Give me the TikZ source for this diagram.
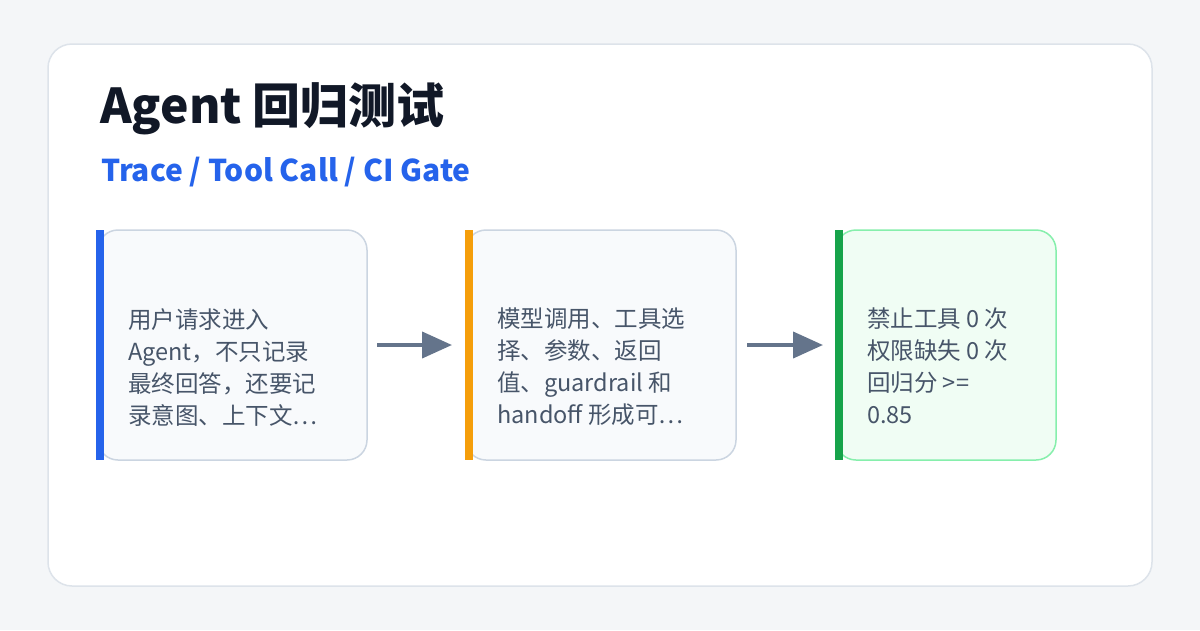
\documentclass[tikz,border=0pt]{standalone}
\usepackage{fontspec}
\setmainfont{Noto Sans CJK SC}
\usetikzlibrary{arrows.meta}
\definecolor{bg}{HTML}{F4F6F8}
\definecolor{cardb}{HTML}{DDE3EA}
\definecolor{ttl}{HTML}{111827}
\definecolor{sub}{HTML}{2563EB}
\definecolor{boxf}{HTML}{F8FAFC}
\definecolor{boxb}{HTML}{CBD5E1}
\definecolor{okf}{HTML}{F0FDF4}
\definecolor{okb}{HTML}{86EFAC}
\definecolor{txt}{HTML}{475569}
\definecolor{arr}{HTML}{64748B}
\definecolor{cblue}{HTML}{2563EB}
\definecolor{corange}{HTML}{F59E0B}
\definecolor{cgreen}{HTML}{16A34A}
\tikzset{
 card/.style={draw=boxb,line width=1.5pt,fill=boxf,rounded corners=20pt},
 btext/.style={anchor=north west,align=left,text=txt,font=\fontsize{23.5}{32}\selectfont,inner sep=0pt},
 conn/.style={draw=arr,line width=4pt,-{Triangle[length=30pt,width=26pt]}}
}
\begin{document}
\begin{tikzpicture}[x=1pt,y=-1pt]
\fill[bg] (0,0) rectangle (1200,630);
\useasboundingbox (0,0) rectangle (1200,630);
\filldraw[fill=white,draw=cardb,line width=1.5pt,rounded corners=24pt] (48,44) rectangle (1152,586);
\node[anchor=base west,inner sep=0pt,text=ttl,font=\fontsize{48}{52}\selectfont\bfseries] (title) at (100,123) {Agent 回归测试};
\node[anchor=base west,inner sep=0pt,text=sub,font=\fontsize{30}{34}\selectfont\bfseries] (subt) at (101,181) {Trace / Tool Call / CI Gate};
% boxes
\draw[card] (98,230) rectangle (367,460);
\fill[cblue] (96,230) rectangle (104,460);
\node[btext] (t1) at (128,308) {用户请求进入\\Agent，不只记录\\最终回答，还要记\\录意图、上下文…};
\draw[card] (466,230) rectangle (736,460);
\fill[corange] (465,230) rectangle (473,460);
\node[btext] (t2) at (497,308) {模型调用、工具选\\择、参数、返回\\值、guardrail 和\\handoff 形成可…};
\draw[card,fill=okf,draw=okb] (836,230) rectangle (1056,460);
\fill[cgreen] (835,230) rectangle (843,460);
\node[btext] (t3) at (867,308) {禁止工具 0 次\\权限缺失 0 次\\回归分 >=\\0.85};
\coordinate (a1s) at (377,345); \coordinate (a1e) at (452,345);
\coordinate (a2s) at (747,345); \coordinate (a2e) at (823,345);
\draw[conn] (a1s) -- (a1e);
\draw[conn] (a2s) -- (a2e);
\end{tikzpicture}
\end{document}
